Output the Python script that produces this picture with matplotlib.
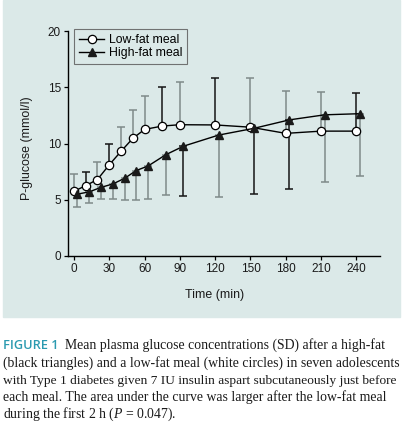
import matplotlib
matplotlib.use("Agg")
import matplotlib.pyplot as plt
from matplotlib.patches import Rectangle
import numpy as np

# --- data ---
time_low = [0, 10, 20, 30, 40, 50, 60, 75, 90, 120, 150, 180, 210, 240]
time_high = [3, 13, 23, 33, 43, 53, 63, 78, 93, 123, 153, 183, 213, 243]  # shifted a little in the original

low_fat = [5.75, 6.25, 6.8, 8.1, 9.3, 10.45, 11.25, 11.55, 11.67, 11.65, 11.45, 10.9, 11.1, 11.1]
low_fat_sd = [1.5, 1.2, 1.6, 1.9, 2.2, 2.5, 3.0, 3.5, 3.8, 4.2, 4.4, 3.8, 3.45, 3.35]

high_fat = [5.5, 5.7, 6.1, 6.4, 6.9, 7.6, 8.0, 9.0, 9.76, 10.75, 11.35, 12.1, 12.55, 12.65]
high_fat_sd = [1.1, 1.0, 1.0, 1.3, 1.9, 2.6, 2.9, 3.6, 4.4, 5.5, 5.8, 6.1, 6.0, 5.55]

# error bar shade in the scan (1 = black, 0 = grey)
low_dark = [0, 1, 0, 1, 0, 0, 0, 1, 0, 1, 0, 0, 0, 1]
high_dark = [0, 0, 0, 0, 0, 0, 0, 0, 1, 0, 1, 1, 0, 0]

x_ticks = [0, 30, 60, 90, 120, 150, 180, 210, 240]
y_ticks = [0, 5, 10, 15, 20]

caption = [
    "Mean plasma glucose concentrations (SD) after a high-fat",
    "(black triangles) and a low-fat meal (white circles) in seven adolescents",
    "with Type 1 diabetes given 7 IU insulin aspart subcutaneously just before",
    "each meal. The area under the curve was larger after the low-fat meal",
    "during the first 2 h ($P$ = 0.047).",
]
caption_size = [9.9, 9.9, 9.6, 9.9, 9.9]

BG = "#dbe9e8"
GREY = "#7f8a8a"
DARK = "#151515"

plt.rcParams["font.family"] = ["Liberation Sans", "DejaVu Sans"]
plt.rcParams["mathtext.fontset"] = "custom"
plt.rcParams["mathtext.rm"] = "Liberation Serif"
plt.rcParams["mathtext.it"] = "Liberation Serif:italic"

W, H = 403, 424
fig = plt.figure(figsize=(W / 100, H / 100), dpi=100)
fig.patches.append(Rectangle((3 / W, 1 - 317 / H), 397 / W, 317 / H,
                             transform=fig.transFigure, color=BG, zorder=-10))

ax = fig.add_axes([68 / W, 1 - 256 / H, 312 / W, 225 / H])
ax.set_facecolor("none")
ax.set_zorder(2)

tl = np.array(time_low)
th = np.array(time_high)
lf = np.array(low_fat)
hf = np.array(high_fat)
lsd = np.array(low_fat_sd)
hsd = np.array(high_fat_sd)

# one-sided SD bars: up for low-fat, down for high-fat
for dark, col in [(0, GREY), (1, DARK)]:
    m = np.array(low_dark) == dark
    ax.errorbar(tl[m], lf[m], yerr=[np.zeros(m.sum()), lsd[m]], fmt="none",
                ecolor=col, elinewidth=1.1, capsize=3.0, capthick=1.1, zorder=2)
    m = np.array(high_dark) == dark
    ax.errorbar(th[m], hf[m], yerr=[hsd[m], np.zeros(m.sum())], fmt="none",
                ecolor=col, elinewidth=1.1, capsize=3.0, capthick=1.1, zorder=2)

ax.plot(tl, lf, "-o", color="black", lw=1.0, ms=6, mfc="white", mec="black",
        mew=0.9, label="Low-fat meal", zorder=3)
ax.plot(th, hf, "-^", color="black", lw=1.0, ms=6, mfc="#1a1a1a", mec="#1a1a1a",
        label="High-fat meal", zorder=3)

ax.set_xlim(-5, 260)
ax.set_ylim(0, 20)
ax.set_xticks(x_ticks)
ax.set_yticks(y_ticks)
ax.tick_params(direction="out", length=3, width=0.9, labelsize=8.5, pad=2,
               labelcolor="#1a1a1a")
for s in ["top", "right"]:
    ax.spines[s].set_visible(False)
for s in ["left", "bottom"]:
    ax.spines[s].set_linewidth(1.0)

ax.set_xlabel("Time (min)", fontsize=8.9, color="#1a1a1a")
ax.set_ylabel("P-glucose (mmol/l)", fontsize=8.9, color="#1a1a1a")
ax.xaxis.set_label_coords(0.47, -0.147)
ax.yaxis.set_label_coords(-0.112, 0.48)

leg = ax.legend(loc="upper left", bbox_to_anchor=(0.019, 1.009), borderaxespad=0,
                fontsize=8.8, frameon=True, fancybox=False, handlelength=2.1,
                handletextpad=0.35, labelspacing=0.12, borderpad=0.4)
leg.get_frame().set_edgecolor("#555555")
leg.get_frame().set_linewidth(0.8)
leg.get_frame().set_facecolor(BG)

# caption below the panel
fig.text(3 / W, 1 - 349.3 / H, "FIGURE 1", color="#2b9ab0", fontsize=9.2,
         family=["Open Sans", "DejaVu Sans"], weight="semibold", va="baseline")
for i, line in enumerate(caption):
    x0 = 65 if i == 0 else 3
    fig.text(x0 / W, 1 - (349.3 + 17.25 * i) / H, line, fontsize=caption_size[i],
             family=["Liberation Serif", "DejaVu Serif"], color="#1a1a1a", va="baseline")

fig.savefig("out.png", dpi=100)
